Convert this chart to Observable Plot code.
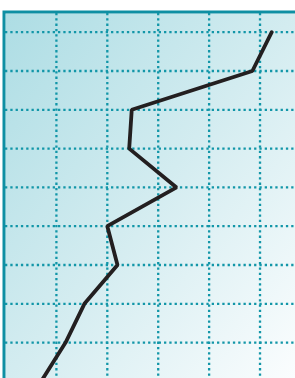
<!DOCTYPE html>
<html>
<head>
<meta charset="utf-8">
<script src="https://cdn.jsdelivr.net/npm/d3@7"></script>
<script src="https://cdn.jsdelivr.net/npm/@observablehq/plot@0.6"></script>
<style>
  html, body { margin: 0; padding: 0; background: white; overflow: hidden; }
  #chart svg { display: block; }
</style>
</head>
<body>
<div id="chart"></div>
<script>
// Data (row index from bottom, horizontal value)
const rows   = [9, 8, 7, 6, 5, 4, 3, 2, 1, 0];
const values = [5.23, 4.85, 2.48, 2.43, 3.36, 2.00, 2.20, 1.55, 1.18, 0.70];
const xTicks = [1, 2, 3, 4, 5];
const yTicks = [1, 2, 3, 4, 5, 6, 7, 8, 9];

const data = rows.map((r, i) => ({row: r, value: values[i]}));

const teal = "#1296a8";

const plot = Plot.plot({
  width: 295,
  height: 378,
  marginTop: 13,
  marginLeft: 5,
  marginRight: 0,
  marginBottom: 0,
  x: {domain: [0, 5.697], axis: null},
  y: {domain: [0.075, 9.482], axis: null},
  style: {background: "white", overflow: "hidden"},
  marks: [
    Plot.frame({fill: "url(#bggrad)", stroke: null}),
    Plot.ruleX(xTicks, {stroke: teal, strokeWidth: 2.3, strokeOpacity: 1, strokeDasharray: "2.3 3"}),
    Plot.ruleY(yTicks, {stroke: teal, strokeWidth: 2.3, strokeOpacity: 1, strokeDasharray: "2.3 3"}),
    Plot.line(data, {x: "value", y: "row", stroke: "#231f20", strokeWidth: 3.8, strokeLinejoin: "miter", clip: true}),
    Plot.frame({stroke: "#0e8fa3", strokeWidth: 3, inset: -1.5, fill: "none"})
  ]
});

const defs = document.createElementNS("http://www.w3.org/2000/svg", "defs");
defs.innerHTML = `<linearGradient id="bggrad" x1="0" y1="0" x2="1" y2="1">
  <stop offset="0" stop-color="#addde4"/>
  <stop offset="0.5" stop-color="#d3ecf0"/>
  <stop offset="1" stop-color="#fbfdfe"/>
</linearGradient>`;
plot.insertBefore(defs, plot.firstChild);
document.getElementById("chart").appendChild(plot);
</script>
</body>
</html>
